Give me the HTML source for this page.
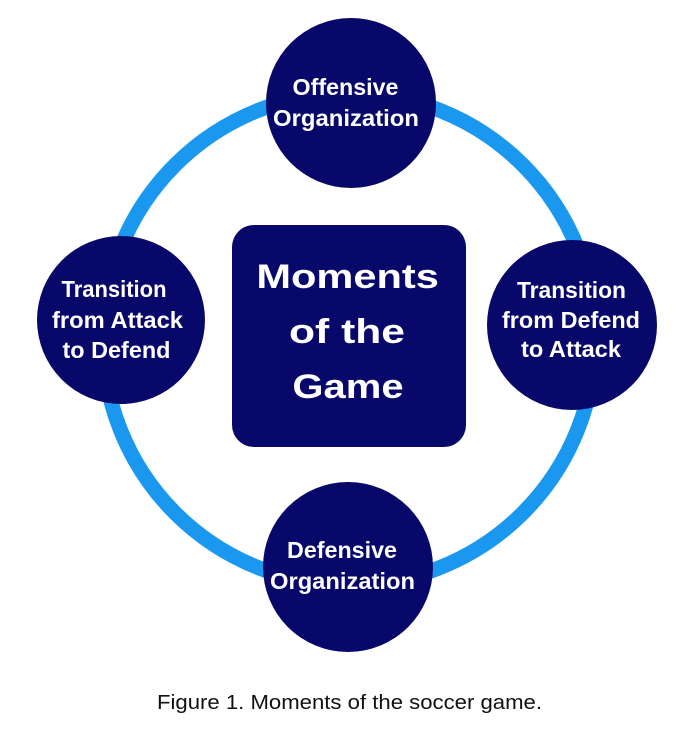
<!DOCTYPE html>
<html>
<head>
<meta charset="utf-8">
<style>
  html, body { margin:0; padding:0; background:#ffffff; }
  body { width:692px; height:736px; overflow:hidden; }
  svg { display:block; }
  .w { fill:#ffffff; font-family:"Liberation Sans", Arial, sans-serif; font-weight:bold; }
</style>
</head>
<body>
<svg width="692" height="736" viewBox="0 0 692 736" xmlns="http://www.w3.org/2000/svg">
  <rect x="0" y="0" width="692" height="736" fill="#ffffff"/>
  <!-- ring -->
  <circle cx="349" cy="339" r="246" fill="none" stroke="#1a98f0" stroke-width="15"/>

  <!-- circles -->
  <circle cx="351" cy="103" r="85" fill="#08086a"/>
  <circle cx="121" cy="320" r="84" fill="#08086a"/>
  <circle cx="572" cy="325" r="85" fill="#08086a"/>
  <circle cx="348" cy="567" r="85" fill="#08086a"/>

  <!-- center box -->
  <rect x="232" y="225" width="234" height="222" rx="22" ry="22" fill="#08086a"/>

  <!-- top -->
  <text class="w" x="345.5" y="95" font-size="23" text-anchor="middle" textLength="106" lengthAdjust="spacingAndGlyphs">Offensive</text>
  <text class="w" x="346" y="126" font-size="23" text-anchor="middle" textLength="146" lengthAdjust="spacingAndGlyphs">Organization</text>

  <!-- left -->
  <text class="w" x="114" y="297" font-size="23" text-anchor="middle" textLength="105" lengthAdjust="spacingAndGlyphs">Transition</text>
  <text class="w" x="117.5" y="328" font-size="23" text-anchor="middle" textLength="131" lengthAdjust="spacingAndGlyphs">from Attack</text>
  <text class="w" x="116.5" y="358" font-size="23" text-anchor="middle" textLength="108" lengthAdjust="spacingAndGlyphs">to Defend</text>

  <!-- right -->
  <text class="w" x="571.5" y="298" font-size="23" text-anchor="middle" textLength="109" lengthAdjust="spacingAndGlyphs">Transition</text>
  <text class="w" x="571" y="328" font-size="23" text-anchor="middle" textLength="138" lengthAdjust="spacingAndGlyphs">from Defend</text>
  <text class="w" x="571" y="357" font-size="23" text-anchor="middle" textLength="100" lengthAdjust="spacingAndGlyphs">to Attack</text>

  <!-- bottom -->
  <text class="w" x="342" y="558" font-size="23" text-anchor="middle" textLength="110" lengthAdjust="spacingAndGlyphs">Defensive</text>
  <text class="w" x="342.5" y="589" font-size="23" text-anchor="middle" textLength="145" lengthAdjust="spacingAndGlyphs">Organization</text>

  <!-- center text -->
  <text class="w" x="0" y="0" font-size="40" text-anchor="middle" transform="translate(347.6,288) scale(1.04,0.86)">Moments</text>
  <text class="w" x="0" y="0" font-size="40" text-anchor="middle" transform="translate(347,343) scale(1.065,0.86)">of the</text>
  <text class="w" x="0" y="0" font-size="40" text-anchor="middle" transform="translate(348,398) scale(1.0,0.86)">Game</text>

  <!-- caption -->
  <text x="349.5" y="709" font-size="20" fill="#111111" font-family="Liberation Sans, Arial, sans-serif" text-anchor="middle" textLength="385" lengthAdjust="spacingAndGlyphs">Figure 1. Moments of the soccer game.</text>
</svg>
</body>
</html>
